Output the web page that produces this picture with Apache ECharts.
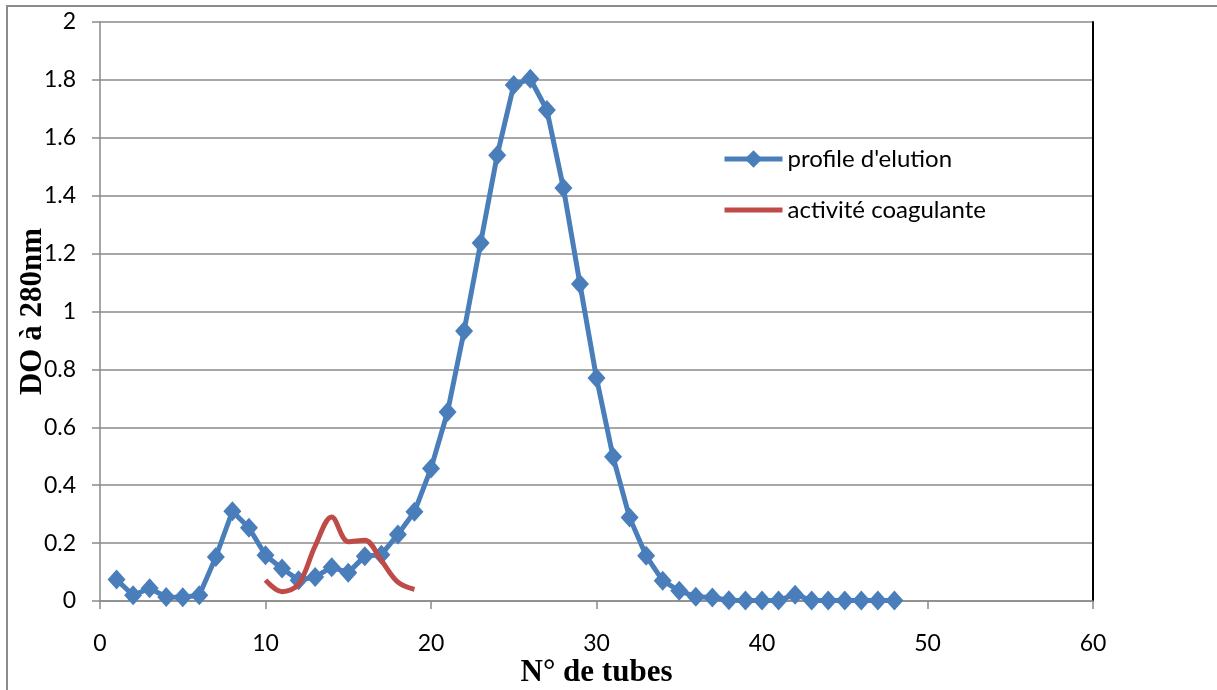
<!DOCTYPE html>
<html>
<head>
<meta charset="utf-8">
<style>
  html, body { margin: 0; padding: 0; background: #fff; }
  #chart { width: 1217px; height: 690px; }
</style>
</head>
<body>
<div id="chart"></div>
<script src="https://cdn.jsdelivr.net/npm/echarts@6/dist/echarts.min.js"></script>
<script>
// N° de tubes / DO à 280nm
var tubes = [1,2,3,4,5,6,7,8,9,10,11,12,13,14,15,16,17,18,19,20,21,22,23,24,
             25,26,27,28,29,30,31,32,33,34,35,36,37,38,39,40,41,42,43,44,45,46,47,48];
var profileDO = [0.074,0.02,0.044,0.014,0.013,0.02,0.152,0.31,0.253,0.158,0.112,0.072,0.083,0.117,0.098,0.155,0.16,0.23,0.308,
                 0.458,0.653,0.933,1.237,1.54,1.782,1.804,1.696,1.427,1.095,0.77,0.498,0.288,0.156,0.07,0.035,
                 0.015,0.012,0.003,0.002,0.002,0.002,0.022,0.002,0.002,0.002,0.002,0.002,0.002];
var coagTubes = [10,11,12,13,14,15,16,17,18,19];
var coagValues = [0.072,0.032,0.058,0.19,0.29,0.205,0.21,0.14,0.065,0.04];
var xTicks = [0,10,20,30,40,50,60];

var profileData = tubes.map(function (t, i) { return [t, profileDO[i]]; });
var coagData = coagTubes.map(function (t, i) { return [t, coagValues[i]]; });

var chart = echarts.init(document.getElementById('chart'));
var gridColor = '#8a8a8a';
var option = {
    animation: false,
    textStyle: { fontFamily: 'Lato' },
    graphic: [{
        type: 'rect',
        shape: { x: 7, y: 6, width: 1230, height: 720 },
        style: { fill: 'none', stroke: '#8c8c8c', lineWidth: 2 },
        z: -1
    }],
    grid: { left: 100, right: 124, top: 22, bottom: 89, outerBoundsMode: 'none', containLabel: false },
    legend: {
        orient: 'vertical',
        left: 722,
        top: 147,
        padding: 0,
        itemWidth: 58,
        itemHeight: 22,
        itemGap: 27,
        textStyle: { fontSize: 24, color: '#000', fontFamily: 'Lato' },
        data: [
            { name: "profile d'elution", lineStyle: { width: 5 } },
            { name: 'activité coagulante', itemStyle: { opacity: 0 }, lineStyle: { width: 5 } }
        ]
    },
    xAxis: {
        type: 'value',
        min: 0, max: 60, interval: 10,
        name: 'N° de tubes',
        nameLocation: 'middle',
        nameGap: 56,
        nameMoveOverlap: false,
        nameTextStyle: { fontFamily: 'Liberation Serif', fontWeight: 'bold', fontSize: 31, color: '#000' },
        axisLine: { lineStyle: { color: gridColor, width: 1.5 } },
        axisTick: { show: true, length: 8, lineStyle: { color: gridColor, width: 1.5 } },
        axisLabel: { fontSize: 23, color: '#000', margin: 31, fontFamily: 'Lato',
                     formatter: function (v) { return xTicks.indexOf(v) >= 0 ? String(v) : ''; } },
        splitLine: { show: false }
    },
    yAxis: [{
        type: 'value',
        min: 0, max: 2, interval: 0.2,
        name: 'DO à 280nm',
        nameLocation: 'middle',
        nameGap: 52,
        nameMoveOverlap: false,
        nameTextStyle: { fontFamily: 'Liberation Serif', fontWeight: 'bold', fontSize: 31, color: '#000' },
        axisLine: { show: true, lineStyle: { color: gridColor, width: 1.5 } },
        axisTick: { show: true, length: 8, lineStyle: { color: gridColor, width: 1.5 } },
        axisLabel: { fontSize: 23, color: '#000', margin: 24, fontFamily: 'Lato',
                     formatter: function (v) { return String(Math.round(v * 10) / 10); } },
        splitLine: { show: true, lineStyle: { color: gridColor, width: 1.5 } }
    }, {
        type: 'value',
        position: 'right',
        min: 0, max: 2, interval: 0.2,
        axisLine: { show: true, lineStyle: { color: '#000', width: 2 } },
        axisTick: { show: false },
        axisLabel: { show: false },
        splitLine: { show: false }
    }],
    series: [{
        name: "profile d'elution",
        type: 'line',
        data: profileData,
        symbol: 'diamond',
        symbolSize: [18, 20],
        itemStyle: { color: '#4a7ebb' },
        lineStyle: { color: '#4a7ebb', width: 5 },
        z: 3
    }, {
        name: 'activité coagulante',
        type: 'line',
        data: coagData,
        smooth: 0.35,
        showSymbol: false,
        symbol: 'none',
        itemStyle: { color: '#be4b48' },
        lineStyle: { color: '#be4b48', width: 5 },
        z: 4
    }]
};
chart.setOption(option);
</script>
</body>
</html>
